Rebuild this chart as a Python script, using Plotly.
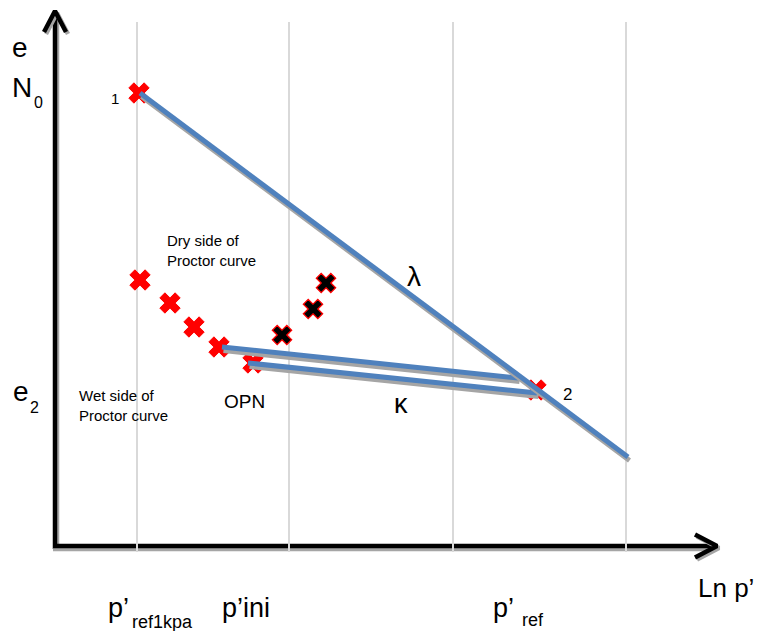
import plotly.graph_objects as go

# Normal compression line (lambda) and the two unloading/reloading lines (kappa)
# x: ln p' (arbitrary units), y: void ratio e
lambda_x = [0.85, 5.73]
lambda_y = [4.53, 0.89]
kappa_upper_x = [1.67, 4.63]
kappa_upper_y = [1.99, 1.68]
kappa_lower_x = [1.93, 4.82]
kappa_lower_y = [1.83, 1.53]

# States 1 and 2 plus the wet side of the Proctor curve (red crosses)
red_x = [0.84, 0.85, 1.15, 1.39, 1.64, 1.98, 4.81]
red_y = [4.53, 2.66, 2.43, 2.19, 1.99, 1.83, 1.56]
# Dry side of the Proctor curve (black crosses)
dry_x = [2.27, 2.58, 2.71]
dry_y = [2.11, 2.37, 2.63]

# Vertical reference lines
grid_x = [0.82, 2.34, 3.98, 5.71]
grid_y = [-0.06, 5.24]

BLUE = "#4F81BD"
SHADOW = "#A5A5A5"
FONT = "Liberation Sans, Arial, sans-serif"

fig = go.Figure()


def shadowed(xs, ys, color, width, dx=0.015, dy=0.035):
    """Draw a polyline with a soft grey drop shadow underneath."""
    fig.add_trace(go.Scatter(x=[v + dx for v in xs], y=[v - dy for v in ys], mode="lines",
                             line=dict(color=SHADOW, width=width), hoverinfo="skip"))
    fig.add_trace(go.Scatter(x=xs, y=ys, mode="lines",
                             line=dict(color=color, width=width), hoverinfo="skip"))


# Axes with open arrow heads
shadowed([0, 0], [-0.03, 5.33], "black", 4.5, dx=0.02, dy=0.02)
shadowed([-0.11, 0, 0.11], [5.14, 5.35, 5.14], "black", 4.5, dx=0.02, dy=0.02)
shadowed([-0.02, 6.60], [0, 0], "black", 4.5, dx=0.0, dy=0.03)
shadowed([6.40, 6.62, 6.40], [0.115, 0.0, -0.115], "black", 4.5, dx=0.02, dy=0.02)

# Light vertical guides
for gx in grid_x:
    fig.add_trace(go.Scatter(x=[gx, gx], y=grid_y, mode="lines",
                             line=dict(color="#D9D9D9", width=2), hoverinfo="skip"))

# Markers
fig.add_trace(go.Scatter(x=red_x, y=red_y, mode="markers",
                         marker=dict(symbol="x", size=18, color="#FF0000",
                                     line=dict(color="#FF0000", width=1))))
fig.add_trace(go.Scatter(x=dry_x, y=dry_y, mode="markers",
                         marker=dict(symbol="x", size=17, color="black",
                                     line=dict(color="#FF0000", width=1.3))))

# Compression lines
shadowed(kappa_upper_x, kappa_upper_y, BLUE, 5)
shadowed(kappa_lower_x, kappa_lower_y, BLUE, 5)
shadowed(lambda_x, lambda_y, BLUE, 5)


def label(x, y, text, size, xanchor="center", yanchor="middle", align="center"):
    fig.add_annotation(x=x, y=y, xref="x", yref="y", text=text, showarrow=False,
                       xanchor=xanchor, yanchor=yanchor, align=align,
                       font=dict(family=FONT, size=size, color="black"))


# Axis titles and symbols
label(-0.35, 4.99, "e", 28)
label(-0.33, 4.59, "N", 28)
label(-0.17, 4.44, "0", 16)
label(-0.34, 1.55, "e", 28)
label(-0.21, 1.39, "2", 16)
label(6.41, -0.42, "Ln p’", 26, xanchor="left")

label(0.51, -0.62, "p’", 27, xanchor="left")
label(0.75, -0.76, "ref1kpa", 18, xanchor="left")
label(1.65, -0.62, "p’ini", 27, xanchor="left")
label(4.36, -0.62, "p’", 27, xanchor="left")
label(4.65, -0.74, "ref", 18, xanchor="left")

# Annotations on the chart
label(0.60, 4.48, "1", 15)
label(5.12, 1.52, "2", 17)
label(3.59, 2.70, "λ", 28)
label(3.46, 1.42, "κ", 27)
label(1.89, 1.45, "OPN", 19)
label(1.10, 2.96, "Dry side of<br>Proctor curve", 15, xanchor="left", align="left")
label(0.22, 1.41, "Wet side of<br>Proctor curve", 15, xanchor="left", align="left")

fig.update_layout(
    width=759, height=631,
    margin=dict(l=0, r=0, t=0, b=0),
    paper_bgcolor="white", plot_bgcolor="white",
    showlegend=False,
    xaxis=dict(range=[-0.55, 7.04], visible=False, fixedrange=True),
    yaxis=dict(range=[-0.85, 5.46], visible=False, fixedrange=True),
)

fig.write_html("out.html")
